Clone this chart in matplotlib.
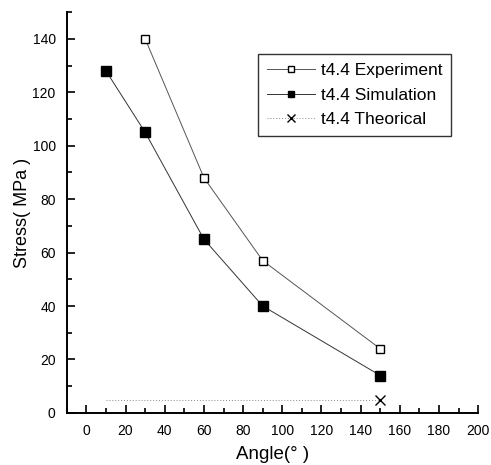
import matplotlib
matplotlib.use("Agg")
import matplotlib.pyplot as plt
from matplotlib.ticker import MultipleLocator

plt.rcParams['font.family'] = ['Liberation Sans', 'DejaVu Sans']

exp_angle = [30, 60, 90, 150]
exp_stress = [140, 88, 57, 24]
sim_angle = [10, 30, 60, 90, 150]
sim_stress = [128, 105, 65, 40, 14]
theo_angle = [10, 30, 60, 90, 150]
theo_stress = [5, 5, 5, 5, 5]

fig = plt.figure(figsize=(4.91, 4.65), dpi=100)
ax = fig.add_axes([0.136, 0.112, 0.838, 0.862])

ax.plot(exp_angle, exp_stress, color='#555555', lw=0.7, marker='s', ms=5.2,
        mfc='white', mec='black', mew=1.0, label='t4.4 Experiment')
ax.plot(sim_angle, sim_stress, color='#333333', lw=0.7, marker='s', ms=6.5,
        mfc='black', mec='black', label='t4.4 Simulation')
ax.plot(theo_angle, theo_stress, color='#888888', lw=0.7, ls=(0, (1, 2)),
        marker='x', ms=7, mec='black', mew=1.0, markevery=[4],
        label='t4.4 Theorical')

ax.set_xlim(-10, 200)
ax.set_ylim(0, 150)
ax.xaxis.set_minor_locator(MultipleLocator(10))
ax.yaxis.set_major_locator(MultipleLocator(20))
ax.yaxis.set_minor_locator(MultipleLocator(10))
ax.set_xticks(range(0, 201, 20))
ax.tick_params(which='both', direction='in', width=1.2, labelsize=10)
ax.tick_params(which='major', length=6)
ax.tick_params(which='minor', length=3.5)
ax.tick_params(axis='x', pad=8)
ax.tick_params(axis='y', pad=8)
for s in ['top', 'right']:
    ax.spines[s].set_visible(False)
for s in ['left', 'bottom']:
    ax.spines[s].set_linewidth(1.4)

ax.set_xlabel('Angle(° )', fontsize=13.5, labelpad=6)
ax.set_ylabel('Stress( MPa )', fontsize=13, labelpad=1)

leg = ax.legend(loc='upper left', bbox_to_anchor=(0.465, 0.895), fontsize=12.5,
                frameon=True, fancybox=False, edgecolor='black',
                handlelength=2.8, handletextpad=0.3, borderpad=0.5,
                borderaxespad=0, labelspacing=0.55, markerscale=0.75)
leg.get_frame().set_linewidth(1.0)

fig.savefig('out.png', dpi=100)
